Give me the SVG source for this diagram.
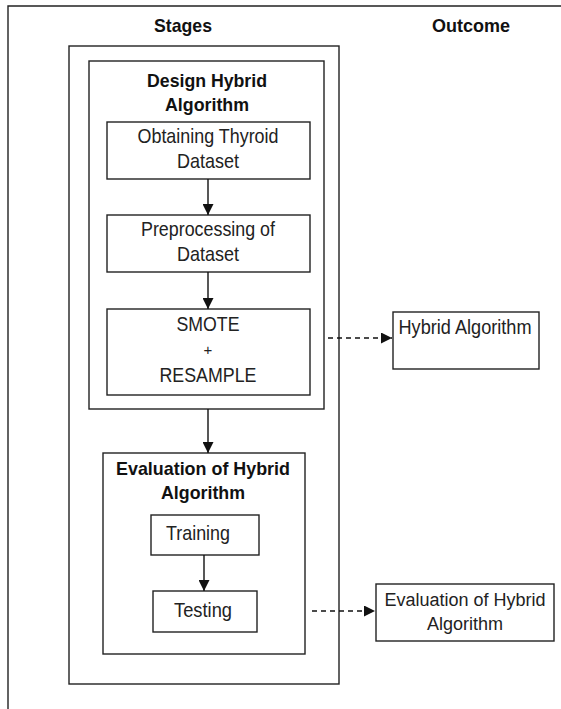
<svg xmlns="http://www.w3.org/2000/svg" width="561" height="709" viewBox="0 0 561 709">
<style>
.box{fill:#fff;stroke:#222;stroke-width:1.4}
.frame{fill:none;stroke:#222;stroke-width:1.4}
.t{font-family:"Liberation Sans",Arial,sans-serif;font-size:21px;fill:#222;text-anchor:middle}
.s{font-size:18px}
.p{font-size:15px}
.b{font-family:"Liberation Sans",Arial,sans-serif;font-size:19px;font-weight:bold;fill:#111;text-anchor:middle}
.c{stroke:#111;stroke-width:1.4;fill:none}
.d{stroke:#111;stroke-width:1.4;fill:none;stroke-dasharray:5,4}
</style>
<defs>
<marker id="ah" viewBox="0 0 10 10" refX="10" refY="5" markerWidth="11" markerHeight="11" markerUnits="userSpaceOnUse" orient="auto">
<path d="M0,0 L10,5 L0,10 Z" fill="#111"/>
</marker>
</defs>
<rect width="561" height="709" fill="#fff"/>
<g id="frame">
<path class="frame" d="M8,709 V6 H561"/>
<text class="b" x="183" y="32" textLength="58" lengthAdjust="spacingAndGlyphs">Stages</text>
<text class="b" x="471" y="32" textLength="78" lengthAdjust="spacingAndGlyphs">Outcome</text>
</g>
<g id="stages">
<rect class="box" x="69" y="46" width="270" height="638"/>
</g>
<g id="design">
<rect class="box" x="89" y="61" width="235" height="348"/>
<text class="b" x="207" y="87" textLength="120" lengthAdjust="spacingAndGlyphs">Design Hybrid</text>
<text class="b" x="207" y="111" textLength="84" lengthAdjust="spacingAndGlyphs">Algorithm</text>
</g>
<g id="obtaining">
<rect class="box" x="107" y="122" width="203" height="57"/>
<text class="t" x="208" y="143" textLength="141" lengthAdjust="spacingAndGlyphs">Obtaining Thyroid</text>
<text class="t" x="208" y="168" textLength="62" lengthAdjust="spacingAndGlyphs">Dataset</text>
</g>
<g id="preprocessing">
<rect class="box" x="107" y="215" width="203" height="57"/>
<text class="t" x="208" y="236" textLength="134" lengthAdjust="spacingAndGlyphs">Preprocessing of</text>
<text class="t" x="208" y="261" textLength="62" lengthAdjust="spacingAndGlyphs">Dataset</text>
</g>
<g id="smote">
<rect class="box" x="107" y="309" width="203" height="86"/>
<text class="t" x="208" y="331" textLength="63" lengthAdjust="spacingAndGlyphs">SMOTE</text>
<text class="t p" x="208" y="355">+</text>
<text class="t" x="208" y="382" textLength="97" lengthAdjust="spacingAndGlyphs">RESAMPLE</text>
</g>
<g id="hybrid-outcome">
<rect class="box" x="393" y="312" width="146" height="57"/>
<text class="t" x="465" y="334" textLength="133" lengthAdjust="spacingAndGlyphs">Hybrid Algorithm</text>
</g>
<g id="evaluation">
<rect class="box" x="103" y="453" width="202" height="201"/>
<text class="b" x="203" y="475" textLength="174" lengthAdjust="spacingAndGlyphs">Evaluation of Hybrid</text>
<text class="b" x="203" y="499" textLength="84" lengthAdjust="spacingAndGlyphs">Algorithm</text>
</g>
<g id="training">
<rect class="box" x="151" y="515" width="108" height="40"/>
<text class="t" x="198" y="540" textLength="64" lengthAdjust="spacingAndGlyphs">Training</text>
</g>
<g id="testing">
<rect class="box" x="153" y="591" width="104" height="41"/>
<text class="t" x="203" y="617" textLength="58" lengthAdjust="spacingAndGlyphs">Testing</text>
</g>
<g id="evaluation-outcome">
<rect class="box" x="376" y="584" width="178" height="57"/>
<text class="t s" x="465" y="606">Evaluation of Hybrid</text>
<text class="t s" x="465" y="630">Algorithm</text>
</g>
<g id="connectors">
<line class="c" x1="208" y1="179" x2="208" y2="215" marker-end="url(#ah)"/>
<line class="c" x1="208" y1="272" x2="208" y2="309" marker-end="url(#ah)"/>
<line class="c" x1="208" y1="409" x2="208" y2="453" marker-end="url(#ah)"/>
<line class="c" x1="204" y1="555" x2="204" y2="591" marker-end="url(#ah)"/>
<line class="d" x1="328" y1="338" x2="392" y2="338" marker-end="url(#ah)"/>
<line class="d" x1="312" y1="611" x2="375" y2="611" marker-end="url(#ah)"/>
</g>
</svg>
